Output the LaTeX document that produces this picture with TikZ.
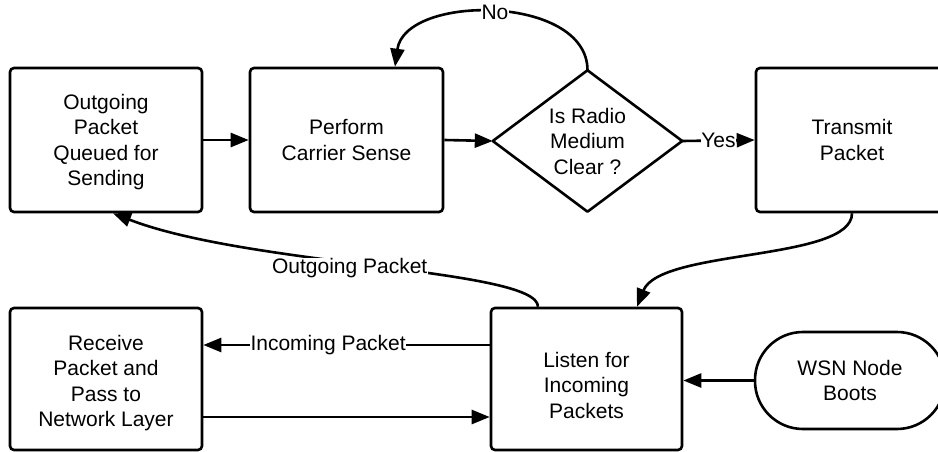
\documentclass[tikz,border=0pt]{standalone}
\usepackage{fontspec}
\setmainfont{Liberation Sans}
\usetikzlibrary{arrows.meta}
\begin{document}
\begin{tikzpicture}[x=1pt,y=-1pt,
  every node/.style={font=\fontsize{21}{25.5}\selectfont, align=center},
  box/.style={draw, line width=2.6pt, rounded corners=4pt,
    minimum width=192pt, minimum height=144pt, inner sep=0pt},
  conn/.style={line width=2.6pt, -{Triangle[length=18pt,width=14pt]}},
  lbl/.style={fill=white, inner sep=0.5pt}]
\useasboundingbox (0,0) rectangle (938,452);
\clip (0,0) rectangle (938,452);

% process steps
\node[box] (q) at (106,140) {};
\node[yshift=-2pt] (qtext) at (q.center) {Outgoing\\Packet\\Queued for\\Sending};
\node[box, minimum width=193pt] (cs) at (346.5,140) {Perform\\Carrier Sense};
\node[minimum width=189pt, minimum height=141pt, inner sep=0pt] (dia) at (587.5,141) {Is Radio\\Medium\\Clear ?};
\draw[line width=2.6pt, line join=round]
  (dia.west) -- (dia.north) -- (dia.east) -- (dia.south) -- cycle;
\node[box] (tx) at (852,140) {Transmit\\Packet};
\node[box, minimum height=142pt] (rx) at (106,379) {};
\node[yshift=-4pt] (rxtext) at (rx.center) {Receive\\Packet and\\Pass to\\Network Layer};
\node[box, minimum width=191pt, minimum height=142pt] (ls) at (586.5,379) {};
\node[yshift=-6pt] (lstext) at (ls.center) {Listen for\\Incoming\\Packets};
\node[box, minimum width=190pt, minimum height=97pt, rounded corners=48pt] (wsn) at (850,380.5) {WSN Node\\Boots};

% connectors
\draw[conn] (q.east) -- (cs.west);
\draw[conn] (cs.east) -- (dia.west);
\draw[conn] (dia.east) -- node[lbl]{Yes} (tx.west);
\draw[conn] (dia.north) .. controls +(0,-76) and +(10,-73) .. node[lbl]{No} ([xshift=48.5pt]cs.north);
\draw[conn] (tx.south) .. controls +(0,48) and +(23,-58) .. ([xshift=50.5pt]ls.north);
\draw[conn] ([xshift=-48.5pt]ls.north) .. controls +(0,-38) and +(137,53) ..
  node[lbl, pos=0.55, yshift=-6pt]{Outgoing Packet} ([xshift=7pt]q.south);
\draw[conn] ([yshift=34pt]ls.west) -- node[lbl, pos=0.564]{Incoming Packet} ([yshift=34pt]rx.east);
\draw[conn] ([yshift=-38pt]rx.east) -- ([yshift=-38pt]ls.west);
\draw[conn] (wsn.west) -- (ls.east |- wsn.west);
\end{tikzpicture}
\end{document}
